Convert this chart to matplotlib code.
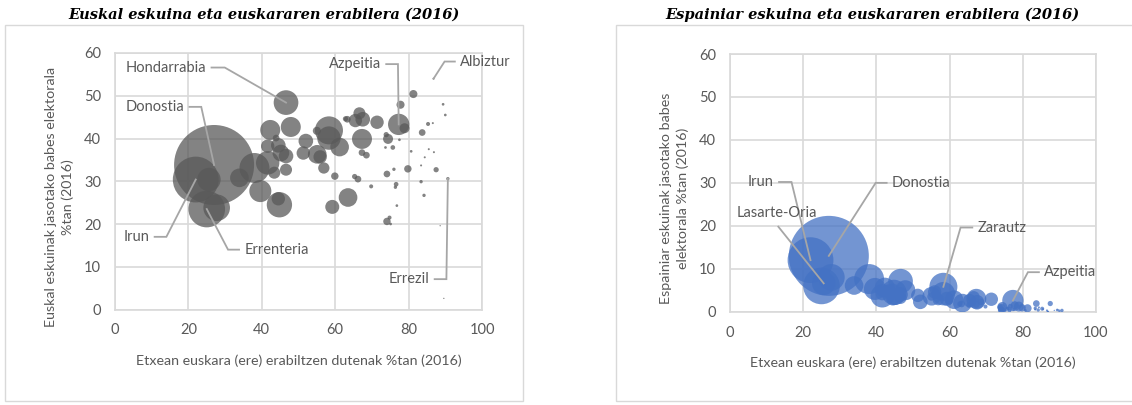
import matplotlib
matplotlib.use("Agg")
import matplotlib.pyplot as plt
from matplotlib.patches import Rectangle
import numpy as np

# Gipuzkoako udalerriak: etxean euskara %, euskal eskuina %, espainiar eskuina %, biztanleak
herriak = ["Donostia", "Irun", "Errenteria", "Pasaia", "Lasarte-Oria", "H6", "Eibar", "H8",
           "H9", "H10", "H11", "Hondarrabia", "H13", "H14", "H15", "H16", "H17", "H18",
           "H19", "H20", "H21", "H22", "H23", "H24", "H25", "H26", "H27", "H28", "H29",
           "Zarautz", "H31", "H32", "H33", "H34", "H35", "H36", "H37", "H38", "H39", "H40",
           "H41", "H42", "H43", "H44", "H45", "Azpeitia", "H47", "H48", "H49", "H50", "H51",
           "H52", "H53", "H54", "H55", "H56", "H57", "H58", "H59", "H60", "H61", "H62",
           "H63", "H64", "H65", "H66", "H67", "H68", "H69", "H70", "H71", "H72", "H73",
           "H74", "H75", "H76", "Errezil", "H78", "Albiztur", "H80"]
etxean_euskara = [27.0, 22.0, 25.0, 27.7, 25.6, 33.9, 38.0, 41.6, 39.6, 44.8, 44.5, 46.6,
                  47.9, 42.3, 41.6, 44.5, 45.2, 46.6, 43.4, 46.6, 43.9, 52.0, 51.3, 55.1,
                  55.9, 56.9, 59.2, 59.9, 62.8, 58.3, 58.3, 55.0, 61.2, 63.5, 65.3, 66.2,
                  69.8, 66.6, 65.5, 67.5, 63.3, 71.4, 67.3, 67.3, 68.5, 77.3, 78.9, 77.8,
                  81.3, 73.9, 74.4, 75.7, 73.7, 77.5, 74.1, 76.0, 79.8, 80.7, 76.6, 76.4,
                  76.8, 74.1, 74.8, 75.1, 83.7, 85.3, 86.6, 89.4, 90.0, 85.5, 86.9, 84.4,
                  87.5, 83.4, 83.4, 84.2, 90.7, 88.6, 86.8, 89.6]
euskal_eskuina = [33.8, 30.4, 23.5, 23.8, 30.4, 30.8, 33.1, 34.3, 27.7, 24.5, 25.9, 48.4,
                  42.7, 42.0, 38.2, 38.4, 36.6, 35.9, 32.0, 32.7, 40.1, 39.4, 36.6, 36.3,
                  35.7, 33.1, 24.0, 31.2, 44.6, 41.9, 40.1, 41.8, 38.0, 26.2, 31.1, 30.5,
                  28.8, 45.9, 44.2, 44.5, 44.5, 43.8, 39.9, 36.7, 36.1, 43.3, 42.4, 47.9,
                  50.4, 40.9, 39.9, 37.9, 37.9, 39.7, 31.7, 32.8, 32.9, 37.0, 29.3, 28.6,
                  24.3, 20.6, 21.5, 20.0, 41.4, 43.4, 43.6, 48.0, 45.5, 37.5, 36.8, 35.6,
                  32.7, 33.7, 29.9, 26.7, 30.6, 19.6, 54.0, 2.6]
espainiar_eskuina = [13.0, 12.0, 6.0, 8.0, 6.6, 6.1, 7.6, 3.7, 5.3, 4.5, 3.0, 7.1,
                     5.0, 5.6, 4.2, 4.8, 3.5, 4.0, 5.0, 3.2, 3.0, 2.3, 3.8, 3.6,
                     4.6, 2.8, 3.0, 2.5, 1.8, 5.8, 4.2, 3.5, 2.8, 2.0, 1.5, 2.0,
                     1.2, 3.4, 2.6, 2.2, 1.8, 2.9, 3.0, 1.7, 2.3, 2.6, 1.2, 1.5,
                     0.8, 1.0, 1.1, 0.6, 0.3, 0.5, 0.4, 0.8, 0.9, 0.3, 1.3, 0.2,
                     0.7, 1.0, 0.5, 0.2, 1.9, 0.7, 0.3, 0.4, 0.2, 0.6, 0.0, 1.0,
                     1.9, 0.5, 0.8, 0.4, 0.3, 0.3, 0.0, 0.5]
biztanleak = [186000, 61000, 39000, 20600, 15900, 10100, 26100, 15900, 14100, 18600, 5200,
              17700, 11600, 11600, 5200, 6200, 8100, 6200, 4200, 4200, 1300, 6200, 5200,
              10100, 5200, 3700, 5700, 1600, 800, 22800, 15900, 1900, 10100, 10100, 800,
              1300, 470, 4200, 5200, 6200, 1300, 5200, 11600, 1300, 1300, 13200, 2900,
              1900, 1900, 800, 2900, 630, 210, 210, 1300, 330, 1600, 210, 630, 330, 210,
              1600, 470, 210, 1300, 470, 120, 210, 210, 120, 120, 120, 800, 120, 330,
              330, 330, 50, 120, 50]

x_ticks = [0, 20, 40, 60, 80, 100]
y_ticks = [0, 10, 20, 30, 40, 50, 60]

title_left = "Euskal eskuina eta euskararen erabilera (2016)"
title_right = "Espainiar eskuina eta euskararen erabilera (2016)"
xlabel = "Etxean euskara (ere) erabiltzen dutenak %tan (2016)"
ylabel_left = "Euskal eskuinak jasotako babes elektorala\n%tan (2016)"
ylabel_right = "Espainiar eskuinak jasotako babes\nelektorala %tan (2016)"

# etiketak: izena, lerroaren hasiera (x, y), koska luzera, testuaren aldea
labels_left = [("Hondarrabia", 26.3, 56.6, 3.6, "left"),
               ("Donostia", 20.3, 47.4, 3.2, "left"),
               ("Irun", 10.8, 17.0, 3.2, "left"),
               ("Errenteria", 33.8, 14.0, -3.0, "right"),
               ("Azpeitia", 73.9, 57.4, 3.2, "left"),
               ("Albiztur", 92.6, 58.0, -2.8, "right"),
               ("Errezil", 87.1, 7.1, 3.2, "left")]
labels_right = [("Irun", 13.4, 30.2, 3.4, "left"),
                ("Donostia", 42.8, 30.0, -3.0, "right"),
                ("Zarautz", 66.2, 19.6, -3.2, "right"),
                ("Azpeitia", 84.4, 9.2, -3.0, "right")]

gray_txt = "#595959"
grid_c = "#d9d9d9"
lead_c = "#a6a6a6"
font = "Lato"

x = np.array(etxean_euskara)
pop = np.array(biztanleak)
sizes = pop * 3318 / 186000
order = np.argsort(-pop)

fig = plt.figure(figsize=(11.32, 4.05), dpi=100)

# kanpoko markoak
fig.patches.append(Rectangle((5 / 1132, 4 / 405), 518 / 1132, 376 / 405, transform=fig.transFigure,
                             fill=False, edgecolor=grid_c, lw=1))
fig.patches.append(Rectangle((616 / 1132, 4 / 405), 530 / 1132, 376 / 405, transform=fig.transFigure,
                             fill=False, edgecolor=grid_c, lw=1))

ax1 = fig.add_axes([115 / 1132, 1 - 309.5 / 405, 367 / 1132, 256.5 / 405])
ax2 = fig.add_axes([730 / 1132, 1 - 311.7 / 405, 366 / 1132, 257.7 / 405])


def draw(ax, yvals, color, title, ylabel, labels, title_x):
    y = np.array(yvals)
    ax.scatter(x[order], y[order], s=sizes[order], color=color, alpha=0.75, linewidths=0, zorder=3)
    ax.set_xlim(0, 100)
    ax.set_ylim(0, 60)
    ax.set_xticks(x_ticks)
    ax.set_yticks(y_ticks)
    ax.grid(True, color=grid_c, lw=1.2, zorder=0)
    for s in ax.spines.values():
        s.set_color(grid_c)
        s.set_linewidth(1.2)
    ax.tick_params(length=0, labelsize=10.5, labelcolor=gray_txt, pad=10)
    for t in ax.get_xticklabels() + ax.get_yticklabels():
        t.set_fontfamily(font)
    ax.set_xlabel(xlabel, fontsize=10.3, color=gray_txt, fontfamily=font, labelpad=12)
    ax.set_ylabel(ylabel, fontsize=10.3, color=gray_txt, fontfamily=font, linespacing=1.45)
    ax.yaxis.set_label_coords(-0.112, 0.44)
    fig.text(title_x, 1 - 15 / 405, title, ha="center", va="center", fontsize=10.5,
             fontweight="bold", fontstyle="italic", fontfamily="DejaVu Serif")
    for name, sx, sy, stub, side in labels:
        i = herriak.index(name)
        ex = sx + stub
        ax.plot([sx, ex, x[i]], [sy, sy, y[i]], color=lead_c, lw=1.3, zorder=4,
                solid_joinstyle="miter")
        if side == "left":
            ax.text(sx - 1.4, sy, name, ha="right", va="center", fontsize=10.5,
                    color=gray_txt, fontfamily=font, zorder=5)
        else:
            ax.text(sx + 1.4, sy, name, ha="left", va="center", fontsize=10.5,
                    color=gray_txt, fontfamily=font, zorder=5)


draw(ax1, euskal_eskuina, "#595959", title_left, ylabel_left, labels_left, 264 / 1132)
draw(ax2, espainiar_eskuina, "#4472C4", title_right, ylabel_right, labels_right, 872 / 1132)

# Lasarte-Oria: etiketa gainean, lerro zuzena
i = herriak.index("Lasarte-Oria")
ax2.plot([13.2, x[i]], [19.8, espainiar_eskuina[i]], color=lead_c, lw=1.3, zorder=4)
ax2.text(12.9, 23.0, "Lasarte-Oria", ha="center", va="center", fontsize=10.5,
         color=gray_txt, fontfamily=font, zorder=5)

fig.savefig("out.png", dpi=100)
